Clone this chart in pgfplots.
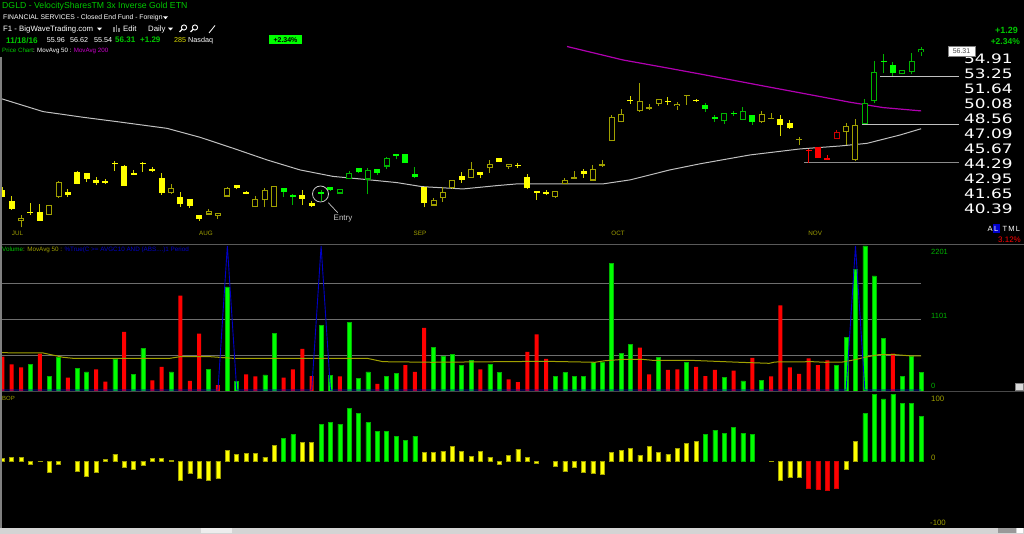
\documentclass[border=0pt]{standalone}
\usepackage{pgfplots}
\pgfplotsset{compat=1.18}
\usepackage{pgfplotstable}
\usepackage{fontspec}
\setmainfont{Liberation Sans}
\newfontfamily\axfont[FakeStretch=1.3]{DejaVu Sans}

\definecolor{cY}{HTML}{FFFF00}
\definecolor{cYw}{HTML}{D8D800}
\definecolor{cOl}{HTML}{A0A000}
\definecolor{cG}{HTML}{00FF00}
\definecolor{cGd}{HTML}{00B400}
\definecolor{cR}{HTML}{FF0000}
\definecolor{cRd}{HTML}{D00000}
\definecolor{hdrG}{HTML}{00C800}
\definecolor{maW}{HTML}{C0C0C0}
\definecolor{maM}{HTML}{B000B0}
\definecolor{gridg}{HTML}{6E6E6E}
\definecolor{sepg}{HTML}{5A5A5A}
\definecolor{volB}{HTML}{0000C8}
\definecolor{magT}{HTML}{CC00CC}
\definecolor{volLab}{HTML}{00B000}
\definecolor{entryC}{HTML}{C8C8C8}

% candles: t = 1 yellow filled, 2 yellow hollow, 3 green filled, 4 green hollow, 5 red filled, 6 red hollow
\pgfplotstableread{
i o h l c t
0 42.22 42.46 41.60 41.65 1
1 41.28 41.71 40.53 40.61 1
2 39.60 40.14 39.12 39.89 2
3 40.39 41.09 40.14 40.26 1
4 40.37 41.03 39.63 39.65 1
5 40.12 40.92 40.12 40.92 2
6 41.60 42.99 41.56 42.92 2
7 42.03 42.31 41.65 41.77 1
8 43.81 43.87 42.72 42.77 1
9 43.69 43.69 42.90 43.19 1
10 43.10 43.36 42.63 42.86 1
11 43.04 43.16 42.72 42.86 1
12 44.65 44.83 43.90 44.56 1
13 44.38 44.42 42.55 42.60 1
14 43.72 43.99 43.55 43.57 1
15 44.65 44.69 43.84 44.54 1
16 44.05 44.26 43.84 43.93 1
17 43.28 43.75 41.80 41.94 1
18 41.94 42.75 41.88 42.42 2
19 41.65 42.03 40.78 41.00 1
20 41.48 41.48 40.72 40.89 1
21 40.09 40.09 39.63 39.79 1
22 40.14 40.61 40.12 40.47 2
23 40.01 40.31 39.81 40.31 2
24 41.65 42.51 41.60 42.37 2
25 42.66 42.66 42.28 42.42 1
26 42.05 42.14 41.85 41.91 1
27 40.75 41.71 40.75 41.43 2
28 41.34 42.42 40.74 42.22 2
29 40.78 42.60 40.78 42.60 2
30 42.37 42.37 41.65 42.05 3
31 41.80 41.88 40.92 41.60 3
32 41.80 42.22 40.94 41.45 1
33 41.11 41.28 40.80 40.86 1
34 42.03 42.22 41.30 41.88 3
35 42.48 42.48 42.16 42.22 3
36 41.91 42.28 41.88 42.28 4
37 43.16 43.87 43.16 43.75 4
38 44.17 44.17 43.72 43.78 3
39 43.13 44.20 41.85 44.02 4
40 44.11 44.11 43.55 43.72 3
41 44.29 45.20 44.11 45.05 4
42 45.45 45.45 44.96 45.30 3
43 45.43 45.45 44.60 44.60 3
44 43.66 44.29 43.25 43.39 3
45 42.46 42.51 40.75 41.09 1
46 40.89 41.56 40.89 41.37 2
47 41.51 42.51 41.22 42.08 2
48 42.39 43.10 42.28 43.07 2
49 43.45 43.78 42.86 43.10 1
50 43.30 44.74 43.28 44.05 2
51 43.78 43.78 43.25 43.55 1
52 44.14 44.90 43.75 44.51 2
53 45.05 45.05 44.69 44.74 1
54 44.29 44.51 44.11 44.51 2
55 44.44 44.60 44.17 44.33 1
56 43.34 43.61 42.31 42.37 1
57 42.14 42.14 41.39 41.99 1
58 42.03 42.22 41.77 41.91 1
59 41.60 42.11 41.56 42.11 2
60 42.72 43.25 42.72 43.10 2
61 43.21 43.90 43.19 43.39 2
62 43.90 44.08 43.30 43.66 1
63 43.04 44.44 43.04 44.05 2
64 44.33 44.90 44.26 44.51 2
65 46.65 49.23 46.65 49.00 2
66 48.56 49.81 48.50 49.30 2
67 50.80 51.22 50.39 50.63 1
68 49.61 52.53 49.54 50.67 2
69 49.87 50.39 49.77 50.05 2
70 50.36 50.84 50.15 50.84 2
71 50.67 51.05 50.22 50.56 1
72 50.15 50.56 49.77 50.39 2
73 51.15 51.26 50.29 51.26 2
74 50.80 50.90 50.53 50.63 1
75 50.25 50.46 49.57 49.82 3
76 49.00 49.23 48.56 48.86 3
77 48.60 49.40 48.33 49.40 4
78 49.46 49.64 49.13 49.30 3
79 48.73 50.05 48.70 49.64 4
80 49.26 49.26 48.26 48.53 3
81 48.50 49.61 48.43 49.30 2
82 48.83 49.43 48.83 48.96 2
83 48.83 49.26 47.13 48.26 1
84 48.43 48.70 47.83 47.90 1
85 46.77 47.06 46.30 46.90 2
86 45.83 45.89 44.65 45.71 5
87 46.11 46.11 45.08 45.08 5
88 45.08 45.33 44.92 44.92 5
89 46.90 47.74 46.90 47.51 6
90 47.51 48.43 46.33 48.13 2
91 44.92 48.83 44.83 48.20 2
92 48.33 50.87 48.33 50.43 4
93 50.67 54.96 50.46 53.80 4
94 55.02 55.81 53.62 54.91 3
95 54.54 54.88 53.36 53.62 3
96 53.51 53.95 53.51 53.95 4
97 53.80 55.89 53.51 55.02 4
98 55.96 56.62 55.54 56.31 4
}\candles

\pgfplotstableread{
i p
-0.25 50.94
4.34 49.57
8.6 49.00
12.23 48.56
17.56 47.90
21.08 47.03
24.6 45.99
28.23 44.90
31.75 43.99
35.27 43.41
38.47 43.16
42.1 42.86
44.76 42.51
49.14 42.31
52.76 42.60
54.9 42.75
59.8 42.75
64.07 42.75
66.95 43.10
71.2 43.99
74.4 44.54
79.75 45.36
85.08 45.92
89.35 46.20
92.23 46.45
95.75 47.25
98 47.86
}\maFifty

\pgfplotstableread{
i p
60.23 56.64
66.2 55.10
71.22 54.15
74.42 53.54
81.56 52.17
86.9 51.18
90.42 50.53
93.94 49.98
98 49.64
}\maTwoHundred

% volume (hundreds): c = 1 red, 2 green
\pgfplotstableread{
i v c
0 527 1
1 410 1
2 364 1
3 410 2
4 573 1
5 226 2
6 511 2
7 204 1
8 343 2
9 292 2
10 333 1
11 143 1
12 492 2
13 906 1
14 257 2
15 656 2
16 164 1
17 369 1
18 292 2
19 1464 1
20 154 1
21 880 1
22 333 2
23 92 1
24 1597 2
25 143 2
26 257 1
27 226 1
28 246 2
29 880 2
30 204 1
31 333 1
32 645 1
33 230 1
34 1009 2
35 241 2
36 226 1
37 1049 2
38 195 2
39 292 2
40 108 1
41 226 2
42 272 2
43 399 1
44 292 1
45 968 1
46 665 2
47 538 2
48 568 2
49 399 2
50 472 2
51 333 1
52 410 2
53 287 2
54 180 1
55 138 1
56 599 1
57 871 1
58 492 1
59 230 2
60 281 2
61 226 2
62 226 2
63 445 2
64 435 2
65 1955 2
66 579 2
67 717 2
68 665 1
69 257 1
70 518 2
71 323 1
72 333 1
73 441 2
74 369 1
75 230 1
76 323 1
77 204 2
78 312 1
79 154 2
80 507 1
81 164 2
82 226 1
83 1316 1
84 364 1
85 261 1
86 502 1
87 399 1
88 472 1
89 399 2
90 825 2
91 1869 2
92 2227 2
93 1766 2
94 803 2
95 573 1
96 226 2
97 527 2
98 287 2
}\vol

\pgfplotstableread{
i v
-0.25 588
4.34 584
6.47 518
7.54 502
17.88 502
18.95 527
22.15 527
24.6 502
38.9 502
40.6 450
45.9 441
57.9 456
63.2 441
64.3 465
66.4 487
68.2 487
69.3 472
73.2 472
78.6 441
81.8 425
82.4 445
86.4 450
87.75 441
89.6 445
90.95 481
92.0 518
93.5 558
95.2 558
97.0 538
98 538
}\volma

\pgfplotstableread{
i p
-0.25 0
23 0
24 100
25 0
33 0
34 100
35 0
90 0
91 100
92 0
98 0
}\pctTrue

% BOP: c = 1 yellow, 2 green, 3 red
\pgfplotstableread{
i b c
0 4 1
1 6 1
2 5 1
3 -5.5 1
4 -0.5 1
5 -17.5 1
6 -4.5 1
8 -15 1
9 -23.5 1
10 -17.5 1
11 3 1
12 10.5 1
13 -9.5 1
14 -13 1
15 -6.5 1
16 4 1
17 4.5 1
18 0.5 1
19 -29.5 1
20 -19 1
21 -26 1
22 -29.5 1
23 -26 1
24 16.5 1
25 9.5 1
26 11.5 1
27 11.5 1
28 6 1
29 24 1
30 34.5 2
31 39.5 2
32 28 1
33 28.5 1
34 55.5 2
35 57.5 2
36 55.5 2
37 79 2
38 72 2
39 57.5 2
40 45 2
41 44 2
42 37.5 2
43 31.5 2
44 37.5 2
45 12.5 1
46 12.5 1
47 15 1
48 22.5 1
49 15 1
50 7 1
51 15 1
52 6 1
53 -5 1
54 8 1
55 18 1
56 5 1
57 -3 1
59 -7.5 1
60 -16 1
61 -9 1
62 -16.5 1
63 -18 1
64 -19.5 1
65 13 1
66 16 1
67 19.5 1
68 9 1
69 22.5 1
70 13 1
71 10 1
72 19.5 1
73 27 1
74 30 1
75 39.5 2
76 46.5 2
77 42 2
78 50 2
79 41.5 2
80 39.5 2
82 -1 1
83 -29 1
84 -25 1
85 -25 1
86 -40.5 3
87 -42 3
88 -44.5 3
89 -41.5 3
90 -13 1
91 30 1
92 71 2
93 100 2
94 93 2
95 100 2
96 86.5 2
97 86.5 2
98 67.5 2
}\bop

% one candlestick: #1 i, #2 open, #3 high, #4 low, #5 close, #6 type
\newcommand\candle[6]{%
  \pgfmathsetmacro\cLo{min(#2,#5)}%
  \pgfmathsetmacro\cHi{max(#2,#5)}%
  \pgfmathsetmacro\cHiB{max(\cHi,\cLo+0.1)}%
  \pgfmathsetmacro\cLoI{\cLo+0.1}%
  \pgfmathsetmacro\cHiI{\cHi-0.1}%
  \pgfmathtruncatemacro\cRoom{\cHiI>\cLoI}%
  \ifcase#6\relax\or \def\cW{cYw}\def\cB{cY}\def\cH{0}%
  \or \def\cW{cOl}\def\cB{cOl}\def\cH{1}%
  \or \def\cW{cGd}\def\cB{cG}\def\cH{0}%
  \or \def\cW{cGd}\def\cB{cGd}\def\cH{1}%
  \or \def\cW{cR}\def\cB{cR}\def\cH{0}%
  \or \def\cW{cRd}\def\cB{cRd}\def\cH{1}\fi
  \edef\cgo{\noexpand\addplot[color=\cW, line width=1pt] coordinates {(#1,#4) (#1,#3)};%
    \noexpand\addplot[color=\cB, line width=6pt] coordinates {(#1,\cLo) (#1,\cHiB)};}%
  \cgo
  \ifnum\cH=1 \ifnum\cRoom=1
    \edef\cgo{\noexpand\addplot[color=black, line width=4pt] coordinates {(#1,\cLoI) (#1,\cHiI)};}%
    \cgo
  \fi\fi
}
\newcommand\tri[2]{\fill[white] (#1,#2+1.3) -- (#1+5,#2+1.3) -- (#1+2.5,#2-1.4) -- cycle;}

\begin{document}
\begin{tikzpicture}[x=1pt,y=1pt]
\useasboundingbox (0,0) rectangle (1024,534);
\fill[black] (0,0) rectangle (1024,534);

% ---------------- price panel ----------------
\begin{axis}[
  at={(0pt,294pt)}, anchor=south west, scale only axis,
  width=937.5pt, height=225pt,
  xmin=-0.25, xmax=99.75, ymode=log, ymin=38.117, ymax=60.42,
  axis line style={draw=none}, tick style={draw=none}, major tick length=0pt,
  xtick={1.62,21.72,44.55,65.67,86.7}, xticklabels={JUL,AUG,SEP,OCT,NOV},
  xticklabel style={anchor=center, yshift=7pt, text=cOl, font=\fontsize{6.3}{7}\selectfont},
  ytick={40.39,41.65,42.95,44.29,45.67,47.09,48.56,50.08,51.64,53.25,54.91},
  yticklabels={40.39,41.65,42.95,44.29,45.67,47.09,48.56,50.08,51.64,53.25,54.91},
  yticklabel pos=right, minor tick num=0,
  yticklabel style={anchor=west, inner sep=0pt, xshift=26.5pt, yshift=2.4pt, text=white, font=\axfont\fontsize{13}{14}\selectfont},
  clip=false,
]
\addplot[color=maW, line width=1pt] table[x=i, y=p] {\maFifty};
\addplot[color=maM, line width=1.2pt] table[x=i, y=p] {\maTwoHundred};
\addplot[color=maW, line width=1pt] coordinates {(93.62,53.25) (102.05,53.25)};
\addplot[color=maW, line width=1pt] coordinates {(91.7,48.30) (102.05,48.30)};
\addplot[color=gridg!80!white, line width=1.2pt] coordinates {(85.51,44.63) (102.05,44.63)};
\pgfplotsforeachungrouped \rr in {0,...,98}{%
  \pgfplotstablegetelem{\rr}{i}\of\candles\let\vI\pgfplotsretval
  \pgfplotstablegetelem{\rr}{o}\of\candles\let\vO\pgfplotsretval
  \pgfplotstablegetelem{\rr}{h}\of\candles\let\vH\pgfplotsretval
  \pgfplotstablegetelem{\rr}{l}\of\candles\let\vL\pgfplotsretval
  \pgfplotstablegetelem{\rr}{c}\of\candles\let\vC\pgfplotsretval
  \pgfplotstablegetelem{\rr}{t}\of\candles\let\vT\pgfplotsretval
  \edef\cdo{\noexpand\candle{\vI}{\vO}{\vH}{\vL}{\vC}{\vT}}\cdo
}
\end{axis}
% entry annotation
\draw[entryC, line width=0.8pt] (320.5,340) circle (8);
\draw[entryC, line width=0.7pt] (328.3,331.3) -- (337.7,321.3);
\node[text=entryC, font=\fontsize{8}{9}\selectfont, inner sep=0pt] at (343,315.7) {Entry};

% ---------------- volume panel ----------------
\begin{axis}[
  at={(0pt,143pt)}, anchor=south west, scale only axis,
  width=921.3pt, height=146pt,
  xmin=-0.25, xmax=98.02, ymin=0, ymax=2242,
  axis line style={draw=none}, tick style={draw=none}, major tick length=0pt,
  xtick=\empty, ytick={550.5,1101,1651.5}, yticklabels={},
  ymajorgrids, grid style={color=gridg, line width=0.9pt},
  clip=false,
]
\addplot[ybar, bar width=4pt, bar shift=0pt, fill=cR, draw=none, restrict expr to domain={\thisrow{c}}{1:1}] table[x=i, y=v] {\vol};
\addplot[ybar, bar width=4pt, bar shift=0pt, fill=cG, draw=cGd, line width=0.5pt, restrict expr to domain={\thisrow{c}}{2:2}] table[x=i, y=v] {\vol};
\addplot[color=cOl, line width=1pt] table[x=i, y=v] {\volma};
\end{axis}
\begin{axis}[
  at={(0pt,143pt)}, anchor=south west, scale only axis,
  width=921.3pt, height=146pt,
  xmin=-0.25, xmax=98.02, ymin=-0.7, ymax=100.7,
  hide axis, clip=false,
]
\addplot[color=volB, line width=0.9pt] table[x=i, y=p] {\pctTrue};
\end{axis}

% ---------------- BOP panel ----------------
\begin{axis}[
  at={(0pt,5.6pt)}, anchor=south west, scale only axis,
  width=921.3pt, height=136.4pt,
  xmin=-0.25, xmax=98.02, ymin=-101, ymax=103.5,
  hide axis, clip=false,
]
\addplot[ybar, bar width=4pt, bar shift=0pt, fill=cY, draw=cOl, line width=0.5pt, restrict expr to domain={\thisrow{c}}{1:1}] table[x=i, y=b] {\bop};
\addplot[ybar, bar width=4pt, bar shift=0pt, fill=cG, draw=cGd, line width=0.5pt, restrict expr to domain={\thisrow{c}}{2:2}] table[x=i, y=b] {\bop};
\addplot[ybar, bar width=4pt, bar shift=0pt, fill=cR, draw=cRd, line width=0.5pt, restrict expr to domain={\thisrow{c}}{3:3}] table[x=i, y=b] {\bop};
\end{axis}

% ---------------- frame pieces ----------------
\draw[sepg, line width=1.5pt] (0,289.5) -- (1024,289.5);
\draw[sepg!80!black, line width=1.5pt] (0,142.3) -- (1024,142.3);
\draw[gray, line width=1.2pt] (1.0,477) -- (1.0,6);
\fill[white!83!black] (0,0) rectangle (1024,6);
\fill[white!93!black] (201,0.5) rectangle (232,5.5);
\fill[white!60!black] (998,0.5) rectangle (1016,5.5);
\fill[white] (1017,0.5) rectangle (1023,5.5);
\filldraw[fill=white!85!black, draw=gray] (1015.5,144) rectangle (1023,151);

% ---------------- header ----------------
\node[anchor=west, inner sep=0pt, text=hdrG, font=\fontsize{8.7}{10}\selectfont] at (2,527.3) {DGLD - VelocitySharesTM 3x Inverse Gold ETN};
\node[anchor=west, inner sep=0pt, text=white, font=\fontsize{6.8}{8}\selectfont] at (3,516.3) {FINANCIAL SERVICES - Closed End Fund - Foreign};
\tri{163}{516.3}
\node[anchor=west, inner sep=0pt, text=white, font=\fontsize{7.8}{9}\selectfont] at (3,505) {F1 - BigWaveTrading.com};
\tri{97}{505}
\fill[gray] (113,502) rectangle (114.6,507);
\fill[gray] (115.6,502) rectangle (117.2,508.5);
\fill[gray] (118.2,502) rectangle (119.8,506);
\node[anchor=west, inner sep=0pt, text=white, font=\fontsize{7.8}{9}\selectfont] at (123,505) {Edit};
\node[anchor=west, inner sep=0pt, text=white, font=\fontsize{7.8}{9}\selectfont] at (148,505) {Daily};
\tri{168}{505}
\draw[white, line width=0.9pt] (184,506.5) circle (2.6);
\draw[white, line width=1.4pt] (182,504.5) -- (179.5,502);
\draw[white, line width=0.9pt] (195,506.5) circle (2.6);
\draw[white, line width=1.4pt] (193,504.5) -- (190.5,502);
\draw[white!80!gray, line width=0.9pt] (209,501) -- (215,508.5);
\node[anchor=west, inner sep=0pt, text=hdrG, font=\bfseries\fontsize{8.2}{9}\selectfont] at (6,493.8) {11/18/16};
\node[anchor=west, inner sep=0pt, text=white, font=\fontsize{7.2}{9}\selectfont] at (46.7,493.8) {55.96};
\node[anchor=west, inner sep=0pt, text=white, font=\fontsize{7.2}{9}\selectfont] at (70,493.8) {56.62};
\node[anchor=west, inner sep=0pt, text=white, font=\fontsize{7.2}{9}\selectfont] at (94,493.8) {55.54};
\node[anchor=west, inner sep=0pt, text=hdrG, font=\bfseries\fontsize{8}{9}\selectfont] at (115,493.8) {56.31};
\node[anchor=west, inner sep=0pt, text=hdrG, font=\bfseries\fontsize{8}{9}\selectfont] at (140,493.8) {+1.29};
\node[anchor=west, inner sep=0pt, text=cYw, font=\fontsize{7.2}{9}\selectfont] at (174,493.8) {285};
\node[anchor=west, inner sep=0pt, text=white, font=\fontsize{7.2}{9}\selectfont] at (188,493.8) {Nasdaq};
\fill[cG] (269,489.5) rectangle (302,498.5);
\node[inner sep=0pt, text=black, font=\bfseries\fontsize{7}{9}\selectfont] at (285.5,494) {+2.34\%};
\node[anchor=west, inner sep=0pt, font=\fontsize{6.2}{7}\selectfont] at (2,483.3) {\color{hdrG}Price Chart\color{white} : MovAvg 50 : \color{magT}MovAvg 200};

% right side
\node[anchor=east, inner sep=0pt, text=hdrG, font=\bfseries\fontsize{9}{10}\selectfont] at (1018,503.3) {+1.29};
\node[anchor=east, inner sep=0pt, text=hdrG, font=\bfseries\fontsize{8.5}{10}\selectfont] at (1020,492.7) {+2.34\%};
\filldraw[fill=white, draw=gray, line width=0.6pt] (948,478) rectangle (975,487.3);
\node[inner sep=0pt, text=black!70, font=\fontsize{7}{8}\selectfont] at (961.5,482.6) {56.31};
\fill[blue!80!black] (993,300.5) rectangle (999.5,309.5);
\node[inner sep=0pt, text=white, font=\fontsize{7.5}{9}\selectfont] at (990,305) {A};
\node[inner sep=0pt, text=white, font=\fontsize{7.5}{9}\selectfont] at (996.3,305) {L};
\node[inner sep=0pt, text=white, font=\fontsize{7.5}{9}\selectfont] at (1005,305) {T};
\node[inner sep=0pt, text=white, font=\fontsize{7.5}{9}\selectfont] at (1011.5,305) {M};
\node[inner sep=0pt, text=white, font=\fontsize{7.5}{9}\selectfont] at (1018,305) {L};
\node[anchor=east, inner sep=0pt, text=cR, font=\fontsize{8}{9}\selectfont] at (1021,294.5) {3.12\%};

% volume panel texts
\node[anchor=west, inner sep=0pt, font=\fontsize{6.3}{7}\selectfont] at (2,284) {\color{hdrG}Volume\color{cOl} : MovAvg 50 : \color{volB}\%True(C >= AVGC10 AND (ABS....)1 Period};
\node[anchor=west, inner sep=0pt, text=volLab, font=\fontsize{7.5}{9}\selectfont] at (931,282.3) {2201};
\node[anchor=west, inner sep=0pt, text=volLab, font=\fontsize{7.5}{9}\selectfont] at (931,218) {1101};
\node[anchor=west, inner sep=0pt, text=volLab, font=\fontsize{7.5}{9}\selectfont] at (931,148) {0};

% BOP texts
\node[anchor=west, inner sep=0pt, text=cOl, font=\fontsize{6}{7}\selectfont] at (2,136) {BOP};
\node[anchor=west, inner sep=0pt, text=cOl, font=\fontsize{7.8}{9}\selectfont] at (931,135) {100};
\node[anchor=west, inner sep=0pt, text=cOl, font=\fontsize{7.8}{9}\selectfont] at (931,76.3) {0};
\node[anchor=west, inner sep=0pt, text=cOl, font=\fontsize{7.8}{9}\selectfont] at (930,11.3) {-100};
\end{tikzpicture}
\end{document}
